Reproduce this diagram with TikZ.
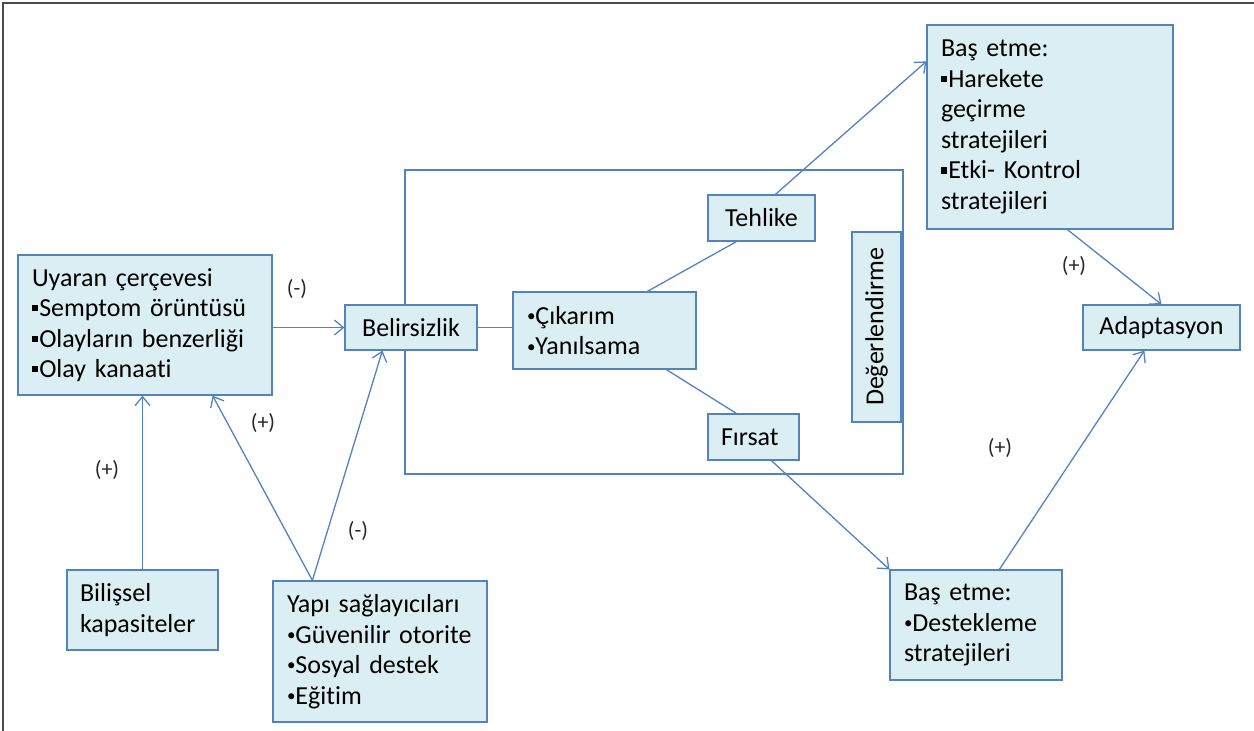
\documentclass[tikz,border=0pt]{standalone}
\usepackage{fontspec}
\setmainfont[Ligatures=NoCommon]{Carlito}
\usetikzlibrary{arrows.meta}
\definecolor{boxfill}{RGB}{219,238,244}
\definecolor{boxline}{RGB}{84,130,190}
\definecolor{lineblue}{RGB}{84,130,190}
\newcommand\sqb{\raisebox{0.2em}{\rule{0.24em}{0.24em}}\hspace{0.04em}}
\newcommand\bul{\raisebox{0.1em}{\fontsize{17}{17}\selectfont •}}
\begin{document}
\begin{tikzpicture}[x=1pt,y=-1pt,
  box/.style={draw=boxline, fill=boxfill, line width=1.2pt, inner xsep=14pt, inner ysep=0pt,
    align=left, font=\fontsize{26}{30.5}\selectfont, text=black},
  cbox/.style={box, align=center},
  conn/.style={draw=lineblue, line width=1.3pt},
  arr/.style={conn, -{Straight Barb[length=9pt,width=15pt,line width=1.3pt]}},
  lbl/.style={font=\fontsize{22}{24}\selectfont, text=black!85}]
\useasboundingbox (0,0) rectangle (1254,731);
\draw[black!70, line width=2pt] (3,731) -- (3,3) -- (1254,3);

% outer evaluation frame
\draw[draw=lineblue, line width=1.2pt] (405,170) rectangle (903,474);

\node[box, minimum width=254pt, minimum height=140pt, text width=226pt] (uy) at (145,325)
  {Uyaran çerçevesi\\\sqb Semptom örüntüsü\\\sqb Olayların benzerliği\\\sqb Olay kanaati};
\node[box, minimum width=151pt, minimum height=80pt, text width=125pt, inner xsep=13pt] (bil) at (142.5,610)
  {Bilişsel\\kapasiteler};
\node[box, minimum width=214pt, minimum height=141pt, text width=186pt] (yp) at (380,651.5)
  {Yapı sağlayıcıları\\\bul Güvenilir otorite\\\bul Sosyal destek\\\bul Eğitim};
\node[cbox, minimum width=132pt, minimum height=45pt, inner xsep=4pt] (bel) at (411,327.5) {Belirsizlik};
\node[box, minimum width=183pt, minimum height=77pt, text width=155pt] (cik) at (604.5,330.5)
  {\bul Çıkarım\\\bul Yanılsama};
\node[cbox, minimum width=107pt, minimum height=46pt, inner xsep=4pt] (teh) at (761.5,218) {Tehlike};
\node[box, minimum width=91pt, minimum height=46pt, text width=65pt, inner xsep=13pt] (fir) at (753.5,437) {Fırsat};
\node[cbox, minimum width=190pt, minimum height=49pt, inner xsep=4pt, rotate=90] (deg) at (876.5,327) {Değerlendirme};
\node[box, minimum width=246pt, minimum height=204pt, text width=218pt] (bt) at (1050,127)
  {Baş etme:\\\sqb Harekete\\geçirme\\stratejileri\\\sqb Etki- Kontrol\\stratejileri};
\node[cbox, minimum width=157pt, minimum height=45pt, inner xsep=4pt] (ad) at (1161.5,327.5) {Adaptasyon};
\node[box, minimum width=172pt, minimum height=110pt, text width=144pt] (bb) at (976,625)
  {Baş etme:\\\bul Destekleme\\stratejileri};

% connectors
\draw[arr] (uy.east |- bel.west) -- (bel.west);
\draw[arr] (bil.north) -- (bil.north |- uy.south);
\coordinate (ypt) at ([xshift=40pt]yp.north west);
\draw[arr] (ypt) -- ([xshift=-60pt]uy.south east);
\draw[arr] (ypt) -- ([xshift=38pt]bel.south west);
\draw[conn] (bel.east) -- (bel.east -| cik.west);
\draw[conn] ([xshift=135pt]cik.north west) -- ([xshift=29pt]teh.south west);
\draw[conn] ([xshift=154pt]cik.south west) -- ([xshift=29pt]fir.north west);
\draw[arr] ([xshift=68pt]teh.north west) -- ([yshift=-37pt]bt.north west);
\draw[arr] ([xshift=64pt]fir.south west) -- (bb.north west);
\draw[arr] ([xshift=141pt]bt.south west) -- (ad.north);
\draw[arr] ([xshift=110pt]bb.north west) -- ([xshift=62pt]ad.south west);

% labels
\node[lbl] (l1) at (297,289) {(-)};
\node[lbl] (l2) at (107,470) {(+)};
\node[lbl] (l3) at (263,423) {(+)};
\node[lbl] (l4) at (358,531) {(-)};
\node[lbl] (l5) at (1074,266) {(+)};
\node[lbl] (l6) at (1000,448) {(+)};
\end{tikzpicture}
\end{document}
